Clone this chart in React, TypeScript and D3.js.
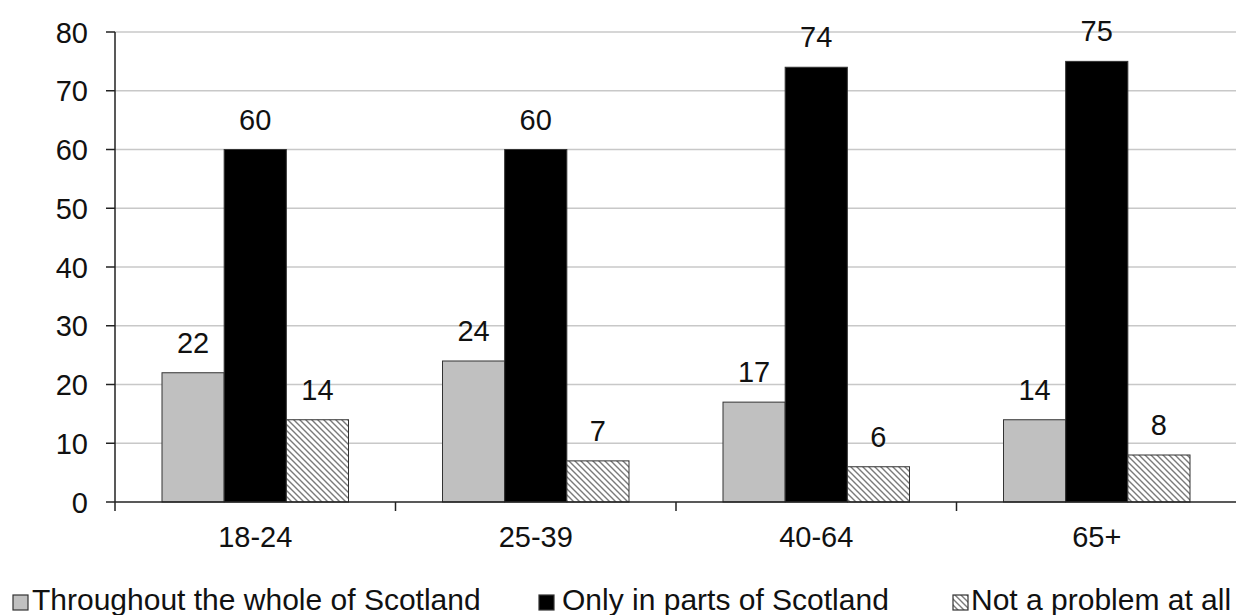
import React from "react";
import * as d3 from "d3";

// Age groups on the x axis
const categories = ["18-24", "25-39", "40-64", "65+"];
// Series names (legend order)
const seriesNames = [
  "Throughout the whole of Scotland",
  "Only in parts of Scotland",
  "Not a problem at all",
];
// Percentages per age group for each series
const throughoutScotland = [22, 24, 17, 14];
const onlyInParts = [60, 60, 74, 75];
const notAProblem = [14, 7, 6, 8];
const yTicks = [0, 10, 20, 30, 40, 50, 60, 70, 80];

const W = 1236;
const H = 615;
const FONT = "'Liberation Sans', Arial, Helvetica, sans-serif";

export default function App() {
  const seriesValues = [throughoutScotland, onlyInParts, notAProblem];
  const fills = ["#c0c0c0", "#000000", "url(#hatch)"];

  const y = d3.scaleLinear().domain([0, 80]).range([502, 32]);
  const x0 = d3.scaleBand<string>().domain(categories).range([115, 115 + 4 * 280.5]).padding(0);
  const x1 = d3
    .scaleBand<string>()
    .domain(seriesNames)
    .range([47, x0.bandwidth() - 47])
    .padding(0);

  const plotLeft = 115;
  const baseY = y(0);
  const boundaries = categories.map((c) => x0(c) as number);

  const legendItems = [
    { marker: 13, text: 32 },
    { marker: 539, text: 562 },
    { marker: 953, text: 971 },
  ];

  return (
    <svg
      width={W}
      height={H}
      style={{ position: "absolute", left: 0, top: 0, background: "#fff" }}
      fontFamily={FONT}
    >
      <defs>
        <pattern id="hatch" patternUnits="userSpaceOnUse" width={6} height={6}>
          <rect width={6} height={6} fill="#fff" />
          <path d="M0,0 L6,6 M-1,5 L1,7 M5,-1 L7,1" stroke="#7a7a7a" strokeWidth={1.4} />
        </pattern>
      </defs>
      <rect width={W} height={H} fill="#fff" />

      {/* gridlines */}
      {yTicks
        .filter((t) => t > 0)
        .map((t) => (
          <line key={t} x1={plotLeft} x2={W} y1={y(t)} y2={y(t)} stroke="#c8c8c8" strokeWidth={1.5} />
        ))}

      {/* bars */}
      {categories.map((c, i) =>
        seriesNames.map((s, j) => {
          const v = seriesValues[j][i];
          const bx = (x0(c) as number) + (x1(s) as number);
          const by = y(v);
          return (
            <g key={c + s}>
              <rect
                x={bx}
                y={by}
                width={x1.bandwidth()}
                height={baseY - by}
                fill={fills[j]}
                stroke="#333"
                strokeWidth={1}
              />
              <text
                x={bx + x1.bandwidth() / 2}
                y={by - 20}
                textAnchor="middle"
                fontSize={29}
                fill="#111"
              >
                {v}
              </text>
            </g>
          );
        })
      )}

      {/* y axis */}
      <line x1={plotLeft} x2={plotLeft} y1={y(80)} y2={baseY + 9} stroke="#222" strokeWidth={1.5} />
      {yTicks.map((t) => (
        <g key={t}>
          <line x1={plotLeft - 9} x2={plotLeft} y1={y(t)} y2={y(t)} stroke="#222" strokeWidth={1.5} />
          <text x={88} y={y(t) + 10.5} textAnchor="end" fontSize={29} fill="#111">
            {t}
          </text>
        </g>
      ))}

      {/* x axis */}
      <line x1={plotLeft} x2={W} y1={baseY} y2={baseY} stroke="#222" strokeWidth={1.5} />
      {boundaries.slice(1).map((bx) => (
        <line key={bx} x1={bx} x2={bx} y1={baseY} y2={baseY + 9} stroke="#222" strokeWidth={1.5} />
      ))}
      {categories.map((c) => (
        <text
          key={c}
          x={(x0(c) as number) + x0.bandwidth() / 2}
          y={547}
          textAnchor="middle"
          fontSize={29}
          fill="#111"
        >
          {c}
        </text>
      ))}

      {/* legend */}
      {seriesNames.map((s, j) => (
        <g key={s}>
          <rect
            x={legendItems[j].marker}
            y={595}
            width={15}
            height={15}
            fill={fills[j]}
            stroke="#333"
            strokeWidth={1.2}
          />
          <text x={legendItems[j].text} y={610} fontSize={30} fill="#111">
            {s}
          </text>
        </g>
      ))}
    </svg>
  );
}
